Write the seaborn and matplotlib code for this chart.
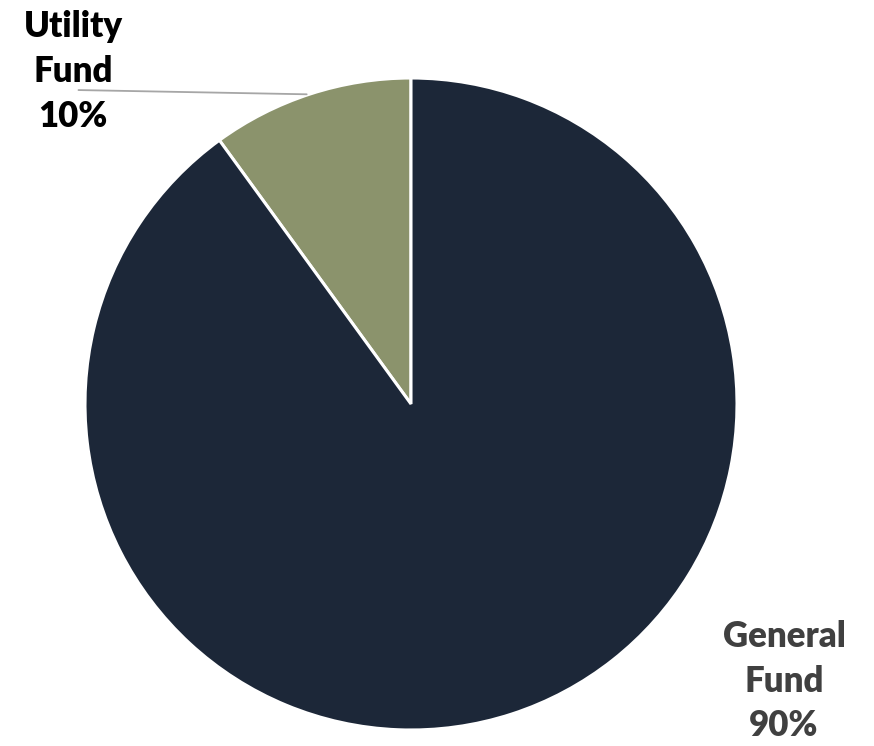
import matplotlib
matplotlib.use("Agg")
import matplotlib.pyplot as plt
import seaborn as sns

sns.set_theme(style="white")
plt.rcParams['font.family'] = ['Lato', 'DejaVu Sans']

# data
funds = ['Utility\nFund', 'General\nFund']
shares = [10, 90]
colors = ['#8B936C', '#1C2738']
label_colors = ['#000000', '#404040']

fig = plt.figure(figsize=(8.74, 7.46), dpi=100)
fig.patch.set_facecolor('white')
# square axes holding the pie (center ~ (411,404) px, radius ~326 px)
ax = fig.add_axes([(411 - 326) / 874, (746 - 404 - 326) / 746, 652 / 874, 652 / 746])

wedges, _ = ax.pie(shares, colors=colors, startangle=90, counterclock=True,
                   radius=1, wedgeprops=dict(edgecolor='white', linewidth=2.2))
ax.set_xlim(-1, 1)
ax.set_ylim(-1, 1)
ax.axis('off')

# labels
lab_pos = [(-1.037, 1.02), (1.144, -0.85)]
for name, val, pos, c in zip(funds, shares, lab_pos, label_colors):
    ax.text(pos[0], pos[1], f"{name}\n{val}%", ha='center', va='center',
            fontsize=25, fontweight='heavy', color=c, linespacing=1.44,
            clip_on=False)

# leader line for the utility slice
ax.plot([-1.02, -0.32], [0.963, 0.95], color='#A6A6A6', lw=1.3, clip_on=False)

fig.savefig("out.png", dpi=100, facecolor='white')
